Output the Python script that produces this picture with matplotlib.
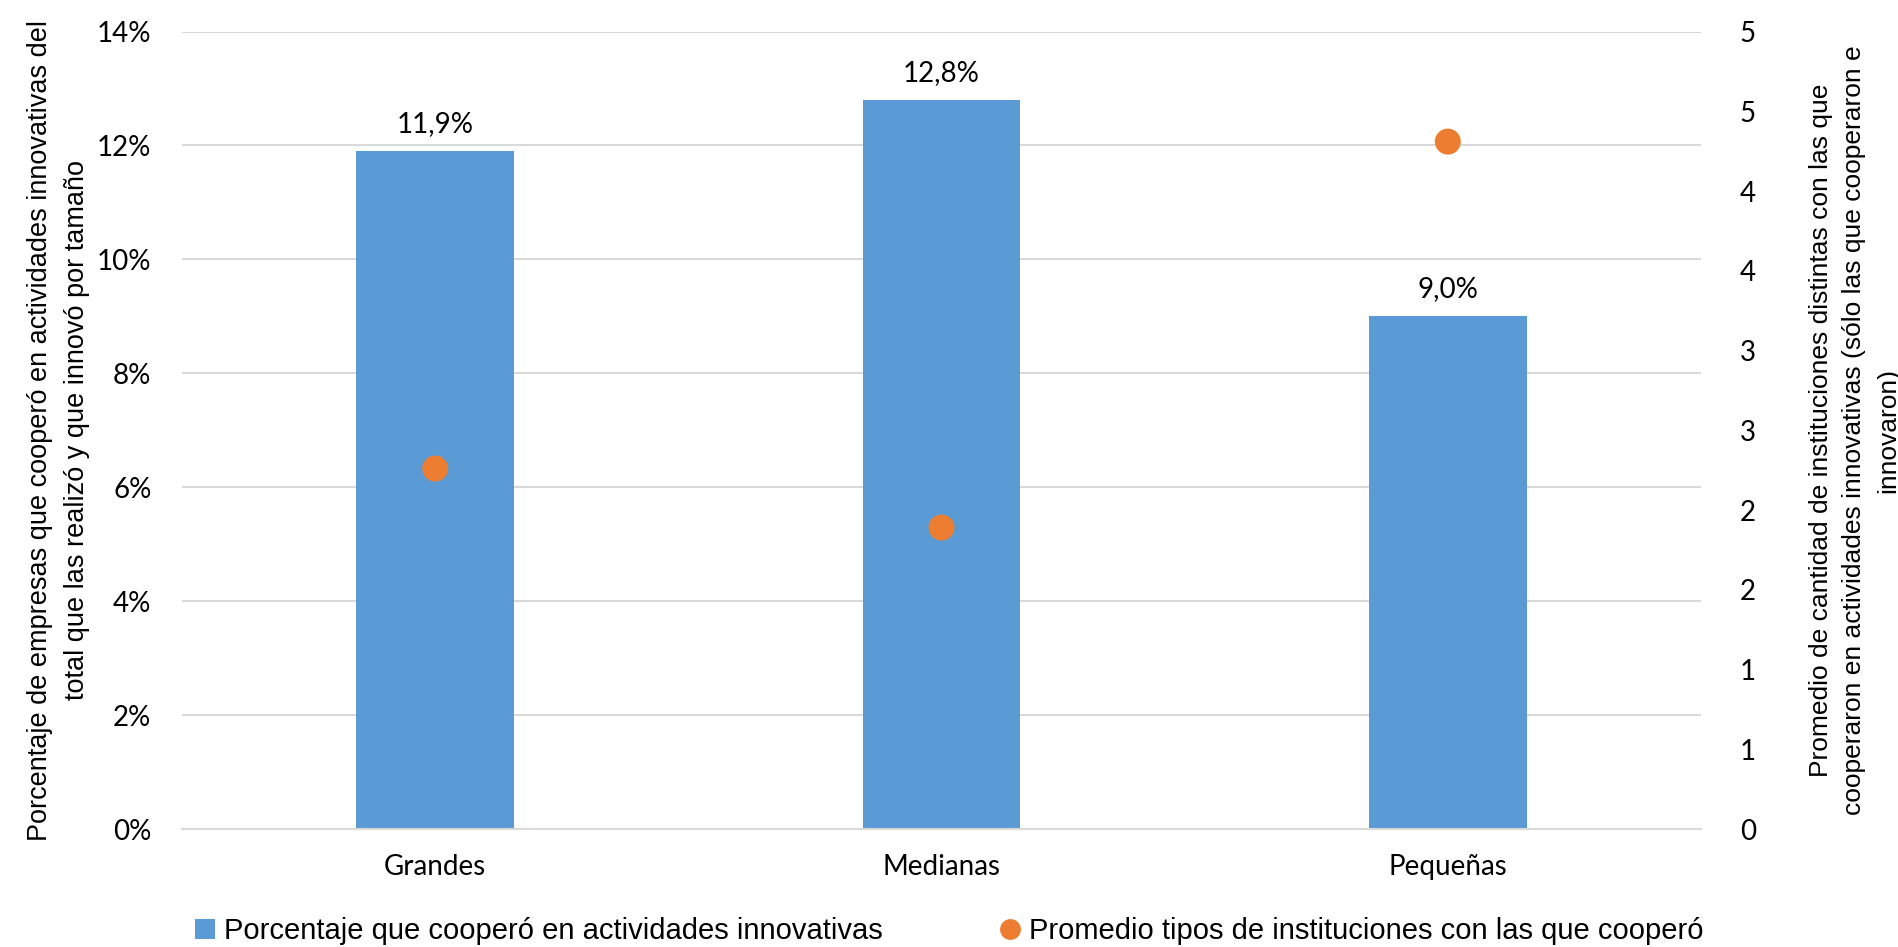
import math
import matplotlib
matplotlib.use("Agg")
import matplotlib.pyplot as plt
from matplotlib.ticker import FuncFormatter, MultipleLocator
from matplotlib.lines import Line2D
from matplotlib.patches import Patch

# Data
categories = ["Grandes", "Medianas", "Pequeñas"]
pct_cooperated = [11.9, 12.8, 9.0]          # % of innovating firms that cooperated
avg_institution_types = [2.26, 1.89, 4.31]  # average number of institution types

bar_label_texts = ["11,9%", "12,8%", "9,0%"]
legend_labels = ["Porcentaje que cooperó en actividades innovativas",
                 "Promedio tipos de instituciones con las que cooperó"]
left_title = ("Porcentaje de empresas que cooperó en actividades innovativas del\n"
              "total que las realizó y que innovó por tamaño")
right_title = ("Promedio de cantidad de instituciones distintas con las que\n"
               "cooperaron en actividades innovativas (sólo las que cooperaron e\n"
               "innovaron)")

BAR_COLOR = "#5B9BD5"
DOT_COLOR = "#ED7D31"
GRID_COLOR = "#D9D9D9"
TEXT_COLOR = "#000000"

tick_font = ["Lato", "DejaVu Sans"]
title_font = ["Liberation Sans Narrow", "Liberation Sans", "DejaVu Sans"]

fig = plt.figure(figsize=(18.98, 9.47), dpi=100)
ax = fig.add_axes([0.0959, 0.1246, 0.8003, 0.8421])
ax2 = ax.twinx()

x = list(range(len(categories)))
ax.bar(x, pct_cooperated, width=0.312, color=BAR_COLOR, zorder=2)
ax2.scatter(x, avg_institution_types, s=350, color=DOT_COLOR, zorder=3,
            edgecolors="none")

# Left axis: percentages
ax.set_xlim(-0.5, len(categories) - 0.5)
ax.set_ylim(0, 14)
ax.yaxis.set_major_locator(MultipleLocator(2))
ax.yaxis.set_major_formatter(FuncFormatter(lambda v, p: f"{int(round(v))}%"))
ax.yaxis.grid(True, color=GRID_COLOR, linewidth=1.5, zorder=0)
ax.set_axisbelow(True)

# Right axis: averages, labels rounded half-up to whole numbers
ax2.set_ylim(0, 5)
ax2.yaxis.set_major_locator(MultipleLocator(0.5))
ax2.yaxis.set_major_formatter(FuncFormatter(lambda v, p: f"{int(math.floor(v + 0.5))}"))

for a in (ax, ax2):
    for s in a.spines.values():
        s.set_visible(False)
    a.tick_params(length=0)

ax.spines["bottom"].set_visible(True)
ax.spines["bottom"].set_color(GRID_COLOR)
ax.spines["bottom"].set_linewidth(1.5)

TICK_SIZE = 20
ax.set_xticks(x)
ax.set_xticklabels(categories, fontsize=TICK_SIZE, family=tick_font, color=TEXT_COLOR)
ax.tick_params(axis="x", pad=18)
ax.tick_params(axis="y", pad=22)
ax2.tick_params(axis="y", pad=28)
for lbl in ax.get_yticklabels() + ax2.get_yticklabels():
    lbl.set_fontsize(TICK_SIZE)
    lbl.set_family(tick_font)

# Value labels above the bars
for xi, v, t in zip(x, pct_cooperated, bar_label_texts):
    ax.annotate(t, (xi, v), xytext=(0, 10), textcoords="offset points",
                ha="center", va="bottom", fontsize=TICK_SIZE, family=tick_font,
                color=TEXT_COLOR)

ax.set_ylabel(left_title, fontsize=19.5, family=title_font, linespacing=1.55)
ax.yaxis.label.set_va("center")
ax.yaxis.set_label_coords(-0.081, 0.5)

ax2.set_ylabel(right_title, fontsize=19, family=title_font, rotation=90,
               linespacing=1.5)
ax2.yaxis.label.set_va("center")
ax2.yaxis.set_label_coords(1.101, 0.5)

handles = [Patch(facecolor=BAR_COLOR, edgecolor="none"),
           Line2D([], [], marker="o", linestyle="none", markersize=15,
                  markerfacecolor=DOT_COLOR, markeredgecolor="none")]
fig.legend(handles, legend_labels, loc="lower center",
           bbox_to_anchor=(0.5, -0.026), ncol=2, frameon=False,
           prop={"family": title_font, "size": 21}, columnspacing=4.0,
           handlelength=0.7, handletextpad=0.3)

fig.savefig("out.png", dpi=100)
